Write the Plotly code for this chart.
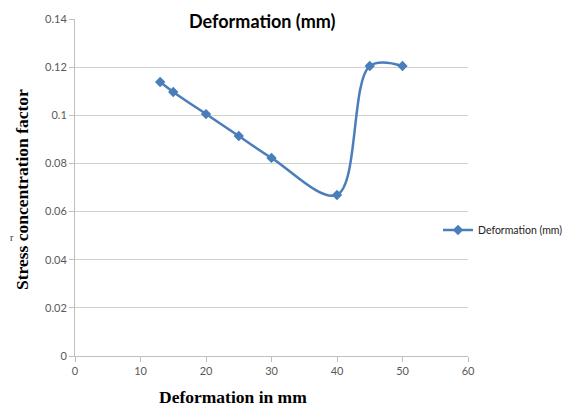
import plotly.graph_objects as go

deformation = [13, 15, 20, 25, 30, 40, 45, 50]
scf = [0.1138, 0.1097, 0.1005, 0.0914, 0.0823, 0.0669, 0.1205, 0.1205]
x_ticks = [0, 10, 20, 30, 40, 50, 60]
y_ticks = [0, 0.02, 0.04, 0.06, 0.08, 0.1, 0.12, 0.14]
y_tick_labels = ["0", "0.02", "0.04", "0.06", "0.08", "0.1", "0.12", "0.14"]

# page is offset by the 8px body margin
OFF = 8
W, H = 577 - OFF, 407 - OFF
L = 75 - OFF
T = 19 - OFF
R = W - (468 - OFF)
B = H - (356 - OFF)
pw, ph = W - L - R, H - T - B

def px(xp):
    return (xp - OFF - L) / pw

def py(yp):
    return (H - B - (yp - OFF)) / ph

fig = go.Figure()
fig.add_trace(go.Scatter(
    x=deformation, y=scf, mode="lines+markers", name="Deformation (mm)",
    line=dict(color="#4a7ebb", width=2.5, shape="spline", smoothing=1.0),
    marker=dict(symbol="diamond", size=8, color="#4a7ebb"),
))

tickfont = dict(family="Lato", size=11, color="#595959")
fig.update_layout(
    width=W, height=H,
    margin=dict(l=L, r=R, t=T, b=B, autoexpand=False),
    paper_bgcolor="white", plot_bgcolor="white",
    showlegend=True,
    legend=dict(x=px(438), xanchor="left", y=py(230), yanchor="middle",
                font=dict(family="Lato", size=10.5, color="#222"),
                bgcolor="rgba(0,0,0,0)", itemwidth=30),
    xaxis=dict(range=[0, 60], tickvals=x_ticks, showgrid=False,
               showline=True, linecolor="#bfbfbf", linewidth=1,
               ticks="outside", ticklen=5, tickcolor="#bfbfbf",
               tickfont=tickfont, zeroline=False, automargin=False),
    yaxis=dict(range=[0, 0.14], tickvals=y_ticks, ticktext=y_tick_labels,
               showgrid=True, gridcolor="#d0d0d0", gridwidth=1,
               showline=True, linecolor="#bfbfbf", linewidth=1,
               ticks="outside", ticklen=5, tickcolor="#bfbfbf",
               tickfont=tickfont, zeroline=False, automargin=False),
)
fig.add_annotation(text="<b>Deformation (mm)</b>", xref="paper", yref="paper",
                   x=px(262), y=1 + T / ph, xanchor="center", yanchor="top",
                   showarrow=False, font=dict(family="Lato", size=18, color="black"))
fig.add_annotation(text="<b>Deformation in mm</b>", xref="paper", yref="paper",
                   x=px(233), y=py(397), xanchor="center", yanchor="middle",
                   showarrow=False, font=dict(family="Liberation Serif", size=17.5, color="black"))
fig.add_annotation(text="<b>Stress concentration factor</b>", xref="paper", yref="paper",
                   x=px(22), y=py(190), xanchor="center", yanchor="middle", textangle=-90,
                   showarrow=False, font=dict(family="Liberation Serif", size=17.5, color="black"))
fig.add_annotation(text="r", xref="paper", yref="paper",
                   x=px(12), y=py(237), xanchor="center", yanchor="middle",
                   showarrow=False, font=dict(family="Liberation Serif", size=10, color="#333"))
fig.write_html("out.html")
